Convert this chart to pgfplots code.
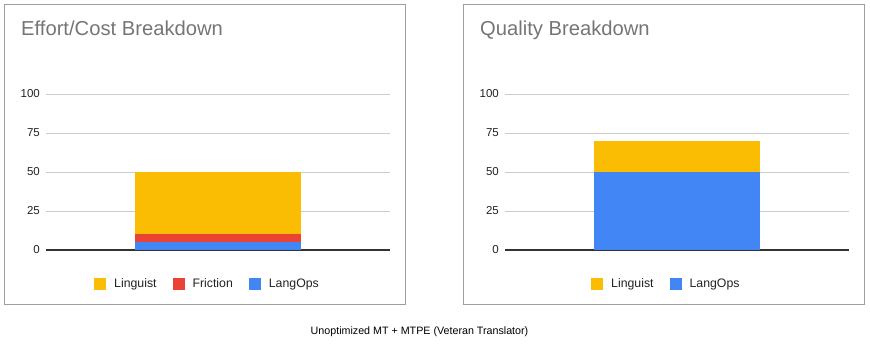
\documentclass[border=0pt]{standalone}
\usepackage{fontspec}
\setmainfont{Liberation Sans}
\usepackage{pgfplots}
\pgfplotsset{compat=1.18}

\definecolor{cLing}{HTML}{FBBC04}
\definecolor{cFric}{HTML}{EA4335}
\definecolor{cOps}{HTML}{4285F4}
\definecolor{cTitle}{HTML}{757575}
\definecolor{cGrid}{HTML}{CCCCCC}
\definecolor{cBase}{HTML}{333333}
\definecolor{cText}{HTML}{222222}
\definecolor{cFrame}{HTML}{9E9E9E}

\pgfplotsset{
  panel/.style={
    scale only axis, width=344pt, height=156pt,
    anchor=south west,
    ybar stacked, bar width=166pt,
    xmin=-1, xmax=1, ymin=0, ymax=100,
    xtick=\empty, ytick={0,25,50,75,100},
    extra y ticks={0}, extra y tick labels={},
    extra y tick style={grid style={cBase, line width=1.2pt}},
    ymajorgrids, grid style={cGrid, line width=0.8pt},
    axis line style={draw=none},
    major tick length=0pt,
    /pgf/number format/assume math mode=true,
    yticklabel style={font=\fontsize{11.5}{13}\selectfont, text=cText, inner sep=0pt, xshift=-6pt},
    reverse legend,
    legend columns=-1,
    legend style={draw=none, fill=none, inner sep=0pt, anchor=west,
      font=\fontsize{12.3}{14}\selectfont, text=cText,
      nodes={inner ysep=0pt, inner xsep=8pt},
      /tikz/every even column/.append style={column sep=8pt}},
    legend image code/.code={\fill[##1] (0pt,-6pt) rectangle (12pt,6pt);},
  }
}

\begin{document}
\begin{tikzpicture}
  \path (0pt,0pt) rectangle (870pt,346pt);
  % panel frames
  \draw[cFrame, line width=0.9pt] (4.5pt,41.5pt) rectangle (405pt,341.5pt);
  \draw[cFrame, line width=0.9pt] (463.5pt,41.5pt) rectangle (864pt,341.5pt);
  % titles
  \node[anchor=base west, inner sep=0pt, text=cTitle, font=\fontsize{20.2}{23}\selectfont] at (21pt,310pt) {Effort/Cost Breakdown};
  \node[anchor=base west, inner sep=0pt, text=cTitle, font=\fontsize{20.2}{23}\selectfont] at (480pt,310pt) {Quality Breakdown};

  % left panel: effort / cost
  \begin{axis}[panel, at={(46pt,96pt)},
      legend style={at={(0.1395,-0.218)}}]
    \addplot[fill=cOps, draw=none] coordinates {(0,5)};
    \addlegendentry{LangOps}
    \addplot[fill=cFric, draw=none] coordinates {(0,5)};
    \addlegendentry{Friction}
    \addplot[fill=cLing, draw=none] coordinates {(0,40)};
    \addlegendentry{Linguist}
  \end{axis}

  % right panel: quality
  \begin{axis}[panel, at={(505pt,96pt)},
      legend style={at={(0.25,-0.218)}}]
    \addplot[fill=cOps, draw=none] coordinates {(0,50)};
    \addlegendentry{LangOps}
    \addplot[fill=cLing, draw=none] coordinates {(0,20)};
    \addlegendentry{Linguist}
  \end{axis}

  \node[anchor=base, inner sep=0pt, font=\fontsize{10.7}{12}\selectfont] at (419.5pt,12pt) {Unoptimized MT + MTPE (Veteran Translator)};
\end{tikzpicture}
\end{document}
